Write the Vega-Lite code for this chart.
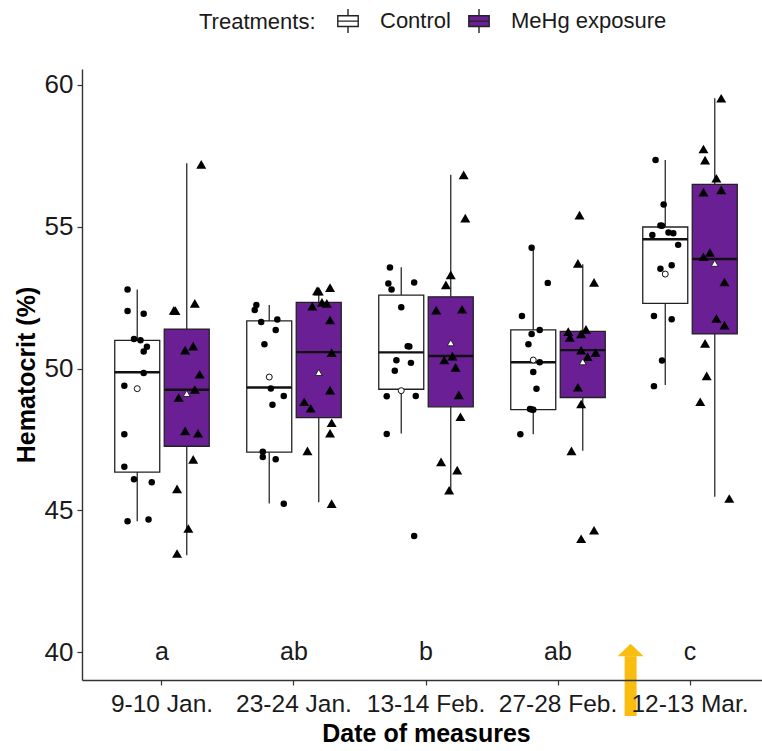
{
  "$schema": "https://vega.github.io/schema/vega-lite/v6.json",
  "autosize": {"type": "none"},
  "padding": {"left": 82, "top": 69, "right": 0, "bottom": 71},
  "width": 680,
  "height": 611,
  "background": "white",
  "datasets": {
    "summary": [
      {"date": "9-10 Jan.", "treatment": "Control", "lower": 44.62, "q1": 46.35, "median": 49.87, "q3": 50.99, "upper": 52.79, "mean": 49.29},
      {"date": "9-10 Jan.", "treatment": "MeHg exposure", "lower": 43.42, "q1": 47.26, "median": 49.25, "q3": 51.39, "upper": 57.24, "mean": 49.12},
      {"date": "23-24 Jan.", "treatment": "Control", "lower": 45.24, "q1": 47.05, "median": 49.33, "q3": 51.68, "upper": 52.24, "mean": 49.7},
      {"date": "23-24 Jan.", "treatment": "MeHg exposure", "lower": 45.29, "q1": 48.27, "median": 50.58, "q3": 52.33, "upper": 52.8, "mean": 49.86},
      {"date": "13-14 Feb.", "treatment": "Control", "lower": 47.71, "q1": 49.27, "median": 50.57, "q3": 52.59, "upper": 53.57, "mean": 49.22},
      {"date": "13-14 Feb.", "treatment": "MeHg exposure", "lower": 45.71, "q1": 48.65, "median": 50.44, "q3": 52.53, "upper": 56.83, "mean": 50.91},
      {"date": "27-28 Feb.", "treatment": "Control", "lower": 47.68, "q1": 48.55, "median": 50.22, "q3": 51.36, "upper": 54.26, "mean": 50.3},
      {"date": "27-28 Feb.", "treatment": "MeHg exposure", "lower": 47.1, "q1": 48.98, "median": 50.65, "q3": 51.31, "upper": 53.68, "mean": 50.24},
      {"date": "12-13 Mar.", "treatment": "Control", "lower": 49.42, "q1": 52.3, "median": 54.56, "q3": 54.99, "upper": 57.35, "mean": 53.33},
      {"date": "12-13 Mar.", "treatment": "MeHg exposure", "lower": 45.48, "q1": 51.22, "median": 53.86, "q3": 56.49, "upper": 59.53, "mean": 53.71}
    ],
    "obs": [
      {"date": "9-10 Jan.", "treatment": "Control", "hct": 52.79},
      {"date": "9-10 Jan.", "treatment": "Control", "hct": 52.03},
      {"date": "9-10 Jan.", "treatment": "Control", "hct": 51.93},
      {"date": "9-10 Jan.", "treatment": "Control", "hct": 51.04},
      {"date": "9-10 Jan.", "treatment": "Control", "hct": 51.0},
      {"date": "9-10 Jan.", "treatment": "Control", "hct": 50.77},
      {"date": "9-10 Jan.", "treatment": "Control", "hct": 50.6},
      {"date": "9-10 Jan.", "treatment": "Control", "hct": 49.84},
      {"date": "9-10 Jan.", "treatment": "Control", "hct": 49.39},
      {"date": "9-10 Jan.", "treatment": "Control", "hct": 47.68},
      {"date": "9-10 Jan.", "treatment": "Control", "hct": 46.54},
      {"date": "9-10 Jan.", "treatment": "Control", "hct": 46.1},
      {"date": "9-10 Jan.", "treatment": "Control", "hct": 45.99},
      {"date": "9-10 Jan.", "treatment": "Control", "hct": 44.68},
      {"date": "9-10 Jan.", "treatment": "Control", "hct": 44.62},
      {"date": "9-10 Jan.", "treatment": "MeHg exposure", "hct": 57.2},
      {"date": "9-10 Jan.", "treatment": "MeHg exposure", "hct": 52.3},
      {"date": "9-10 Jan.", "treatment": "MeHg exposure", "hct": 52.05},
      {"date": "9-10 Jan.", "treatment": "MeHg exposure", "hct": 52.04},
      {"date": "9-10 Jan.", "treatment": "MeHg exposure", "hct": 50.79},
      {"date": "9-10 Jan.", "treatment": "MeHg exposure", "hct": 50.65},
      {"date": "9-10 Jan.", "treatment": "MeHg exposure", "hct": 49.8},
      {"date": "9-10 Jan.", "treatment": "MeHg exposure", "hct": 49.26},
      {"date": "9-10 Jan.", "treatment": "MeHg exposure", "hct": 48.98},
      {"date": "9-10 Jan.", "treatment": "MeHg exposure", "hct": 47.8},
      {"date": "9-10 Jan.", "treatment": "MeHg exposure", "hct": 47.72},
      {"date": "9-10 Jan.", "treatment": "MeHg exposure", "hct": 46.8},
      {"date": "9-10 Jan.", "treatment": "MeHg exposure", "hct": 45.76},
      {"date": "9-10 Jan.", "treatment": "MeHg exposure", "hct": 44.36},
      {"date": "9-10 Jan.", "treatment": "MeHg exposure", "hct": 43.48},
      {"date": "23-24 Jan.", "treatment": "Control", "hct": 52.24},
      {"date": "23-24 Jan.", "treatment": "Control", "hct": 52.06},
      {"date": "23-24 Jan.", "treatment": "Control", "hct": 51.73},
      {"date": "23-24 Jan.", "treatment": "Control", "hct": 51.64},
      {"date": "23-24 Jan.", "treatment": "Control", "hct": 51.36},
      {"date": "23-24 Jan.", "treatment": "Control", "hct": 50.86},
      {"date": "23-24 Jan.", "treatment": "Control", "hct": 49.3},
      {"date": "23-24 Jan.", "treatment": "Control", "hct": 49.03},
      {"date": "23-24 Jan.", "treatment": "Control", "hct": 48.72},
      {"date": "23-24 Jan.", "treatment": "Control", "hct": 47.07},
      {"date": "23-24 Jan.", "treatment": "Control", "hct": 46.88},
      {"date": "23-24 Jan.", "treatment": "Control", "hct": 46.8},
      {"date": "23-24 Jan.", "treatment": "Control", "hct": 45.23},
      {"date": "23-24 Jan.", "treatment": "MeHg exposure", "hct": 52.85},
      {"date": "23-24 Jan.", "treatment": "MeHg exposure", "hct": 52.74},
      {"date": "23-24 Jan.", "treatment": "MeHg exposure", "hct": 52.73},
      {"date": "23-24 Jan.", "treatment": "MeHg exposure", "hct": 52.33},
      {"date": "23-24 Jan.", "treatment": "MeHg exposure", "hct": 52.3},
      {"date": "23-24 Jan.", "treatment": "MeHg exposure", "hct": 52.2},
      {"date": "23-24 Jan.", "treatment": "MeHg exposure", "hct": 51.71},
      {"date": "23-24 Jan.", "treatment": "MeHg exposure", "hct": 50.56},
      {"date": "23-24 Jan.", "treatment": "MeHg exposure", "hct": 49.24},
      {"date": "23-24 Jan.", "treatment": "MeHg exposure", "hct": 48.83},
      {"date": "23-24 Jan.", "treatment": "MeHg exposure", "hct": 48.6},
      {"date": "23-24 Jan.", "treatment": "MeHg exposure", "hct": 48.09},
      {"date": "23-24 Jan.", "treatment": "MeHg exposure", "hct": 47.72},
      {"date": "23-24 Jan.", "treatment": "MeHg exposure", "hct": 47.1},
      {"date": "23-24 Jan.", "treatment": "MeHg exposure", "hct": 45.24},
      {"date": "13-14 Feb.", "treatment": "Control", "hct": 53.56},
      {"date": "13-14 Feb.", "treatment": "Control", "hct": 53.03},
      {"date": "13-14 Feb.", "treatment": "Control", "hct": 53.0},
      {"date": "13-14 Feb.", "treatment": "Control", "hct": 52.79},
      {"date": "13-14 Feb.", "treatment": "Control", "hct": 52.16},
      {"date": "13-14 Feb.", "treatment": "Control", "hct": 50.79},
      {"date": "13-14 Feb.", "treatment": "Control", "hct": 50.78},
      {"date": "13-14 Feb.", "treatment": "Control", "hct": 50.29},
      {"date": "13-14 Feb.", "treatment": "Control", "hct": 50.2},
      {"date": "13-14 Feb.", "treatment": "Control", "hct": 49.92},
      {"date": "13-14 Feb.", "treatment": "Control", "hct": 49.03},
      {"date": "13-14 Feb.", "treatment": "Control", "hct": 49.02},
      {"date": "13-14 Feb.", "treatment": "Control", "hct": 47.69},
      {"date": "13-14 Feb.", "treatment": "Control", "hct": 44.1},
      {"date": "13-14 Feb.", "treatment": "MeHg exposure", "hct": 56.83},
      {"date": "13-14 Feb.", "treatment": "MeHg exposure", "hct": 55.3},
      {"date": "13-14 Feb.", "treatment": "MeHg exposure", "hct": 53.3},
      {"date": "13-14 Feb.", "treatment": "MeHg exposure", "hct": 52.95},
      {"date": "13-14 Feb.", "treatment": "MeHg exposure", "hct": 52.09},
      {"date": "13-14 Feb.", "treatment": "MeHg exposure", "hct": 52.06},
      {"date": "13-14 Feb.", "treatment": "MeHg exposure", "hct": 50.44},
      {"date": "13-14 Feb.", "treatment": "MeHg exposure", "hct": 50.3},
      {"date": "13-14 Feb.", "treatment": "MeHg exposure", "hct": 50.04},
      {"date": "13-14 Feb.", "treatment": "MeHg exposure", "hct": 49.07},
      {"date": "13-14 Feb.", "treatment": "MeHg exposure", "hct": 48.3},
      {"date": "13-14 Feb.", "treatment": "MeHg exposure", "hct": 46.71},
      {"date": "13-14 Feb.", "treatment": "MeHg exposure", "hct": 46.42},
      {"date": "13-14 Feb.", "treatment": "MeHg exposure", "hct": 45.71},
      {"date": "27-28 Feb.", "treatment": "Control", "hct": 54.26},
      {"date": "27-28 Feb.", "treatment": "Control", "hct": 53.02},
      {"date": "27-28 Feb.", "treatment": "Control", "hct": 51.85},
      {"date": "27-28 Feb.", "treatment": "Control", "hct": 51.36},
      {"date": "27-28 Feb.", "treatment": "Control", "hct": 51.22},
      {"date": "27-28 Feb.", "treatment": "Control", "hct": 50.86},
      {"date": "27-28 Feb.", "treatment": "Control", "hct": 50.22},
      {"date": "27-28 Feb.", "treatment": "Control", "hct": 49.88},
      {"date": "27-28 Feb.", "treatment": "Control", "hct": 49.29},
      {"date": "27-28 Feb.", "treatment": "Control", "hct": 48.56},
      {"date": "27-28 Feb.", "treatment": "Control", "hct": 48.57},
      {"date": "27-28 Feb.", "treatment": "Control", "hct": 48.55},
      {"date": "27-28 Feb.", "treatment": "Control", "hct": 47.68},
      {"date": "27-28 Feb.", "treatment": "MeHg exposure", "hct": 55.41},
      {"date": "27-28 Feb.", "treatment": "MeHg exposure", "hct": 53.71},
      {"date": "27-28 Feb.", "treatment": "MeHg exposure", "hct": 53.04},
      {"date": "27-28 Feb.", "treatment": "MeHg exposure", "hct": 51.38},
      {"date": "27-28 Feb.", "treatment": "MeHg exposure", "hct": 51.3},
      {"date": "27-28 Feb.", "treatment": "MeHg exposure", "hct": 51.22},
      {"date": "27-28 Feb.", "treatment": "MeHg exposure", "hct": 51.1},
      {"date": "27-28 Feb.", "treatment": "MeHg exposure", "hct": 50.65},
      {"date": "27-28 Feb.", "treatment": "MeHg exposure", "hct": 50.56},
      {"date": "27-28 Feb.", "treatment": "MeHg exposure", "hct": 50.42},
      {"date": "27-28 Feb.", "treatment": "MeHg exposure", "hct": 49.34},
      {"date": "27-28 Feb.", "treatment": "MeHg exposure", "hct": 48.75},
      {"date": "27-28 Feb.", "treatment": "MeHg exposure", "hct": 47.1},
      {"date": "27-28 Feb.", "treatment": "MeHg exposure", "hct": 44.3},
      {"date": "27-28 Feb.", "treatment": "MeHg exposure", "hct": 44.0},
      {"date": "12-13 Mar.", "treatment": "Control", "hct": 57.35},
      {"date": "12-13 Mar.", "treatment": "Control", "hct": 55.78},
      {"date": "12-13 Mar.", "treatment": "Control", "hct": 55.04},
      {"date": "12-13 Mar.", "treatment": "Control", "hct": 55.03},
      {"date": "12-13 Mar.", "treatment": "Control", "hct": 54.8},
      {"date": "12-13 Mar.", "treatment": "Control", "hct": 54.77},
      {"date": "12-13 Mar.", "treatment": "Control", "hct": 54.71},
      {"date": "12-13 Mar.", "treatment": "Control", "hct": 54.36},
      {"date": "12-13 Mar.", "treatment": "Control", "hct": 53.64},
      {"date": "12-13 Mar.", "treatment": "Control", "hct": 53.52},
      {"date": "12-13 Mar.", "treatment": "Control", "hct": 51.85},
      {"date": "12-13 Mar.", "treatment": "Control", "hct": 51.74},
      {"date": "12-13 Mar.", "treatment": "Control", "hct": 50.28},
      {"date": "12-13 Mar.", "treatment": "Control", "hct": 49.38},
      {"date": "12-13 Mar.", "treatment": "MeHg exposure", "hct": 59.53},
      {"date": "12-13 Mar.", "treatment": "MeHg exposure", "hct": 57.74},
      {"date": "12-13 Mar.", "treatment": "MeHg exposure", "hct": 57.35},
      {"date": "12-13 Mar.", "treatment": "MeHg exposure", "hct": 56.71},
      {"date": "12-13 Mar.", "treatment": "MeHg exposure", "hct": 56.3},
      {"date": "12-13 Mar.", "treatment": "MeHg exposure", "hct": 56.22},
      {"date": "12-13 Mar.", "treatment": "MeHg exposure", "hct": 54.09},
      {"date": "12-13 Mar.", "treatment": "MeHg exposure", "hct": 53.94},
      {"date": "12-13 Mar.", "treatment": "MeHg exposure", "hct": 53.05},
      {"date": "12-13 Mar.", "treatment": "MeHg exposure", "hct": 51.77},
      {"date": "12-13 Mar.", "treatment": "MeHg exposure", "hct": 51.53},
      {"date": "12-13 Mar.", "treatment": "MeHg exposure", "hct": 50.89},
      {"date": "12-13 Mar.", "treatment": "MeHg exposure", "hct": 49.74},
      {"date": "12-13 Mar.", "treatment": "MeHg exposure", "hct": 48.83},
      {"date": "12-13 Mar.", "treatment": "MeHg exposure", "hct": 45.42}
    ],
    "letters": [
      {"date": "9-10 Jan.", "group": "a"},
      {"date": "23-24 Jan.", "group": "ab"},
      {"date": "13-14 Feb.", "group": "b"},
      {"date": "27-28 Feb.", "group": "ab"},
      {"date": "12-13 Mar.", "group": "c"}
    ],
    "event": [
      {"date": "12-13 Mar.", "label": "exposure start"}
    ]
  },
  "encoding": {
    "x": {
      "field": "date",
      "type": "nominal",
      "sort": ["9-10 Jan.", "23-24 Jan.", "13-14 Feb.", "27-28 Feb.", "12-13 Mar."],
      "scale": {"range": [0, 688], "paddingInner": 0, "paddingOuter": 0.106},
      "axis": {"title": "Date of measures", "labelAngle": 0, "labelPadding": 7, "titlePadding": 6, "zindex": 1, "labelFontSize": 24.5}
    }
  },
  "layer": [
    {
      "data": {"name": "summary"},
      "mark": {"type": "rule", "color": "#2b2b2b", "strokeWidth": 1.3},
      "encoding": {
        "xOffset": {"field": "treatment", "type": "nominal", "scale": {"paddingInner": 0.0909, "paddingOuter": 0.3788}},
        "y": {
          "field": "lower",
          "type": "quantitative",
          "scale": {"domain": [39.02, 60.56], "nice": false, "zero": false},
          "axis": {"title": "Hematocrit (%)", "values": [40, 45, 50, 55, 60], "labelPadding": 4, "titlePadding": 5, "labelFontSize": 26}
        },
        "y2": {"field": "upper"}
      }
    },
    {
      "data": {"name": "summary"},
      "mark": {"type": "bar", "stroke": "#222222", "strokeWidth": 1.3},
      "encoding": {
        "xOffset": {"field": "treatment", "type": "nominal", "scale": {"paddingInner": 0.0909, "paddingOuter": 0.3788}},
        "y": {"field": "q1", "type": "quantitative"},
        "y2": {"field": "q3"},
        "fill": {
          "field": "treatment",
          "type": "nominal",
          "scale": {"domain": ["Control", "MeHg exposure"], "range": ["#ffffff", "#6a1f94"]},
          "legend": {
            "title": "Treatments:",
            "orient": "none",
            "legendX": 117,
            "legendY": -61,
            "direction": "horizontal",
            "titleOrient": "left",
            "titleFontWeight": "normal",
            "titleFontSize": 22,
            "titleColor": "#1a1a1a",
            "titlePadding": 19,
            "labelFontSize": 22,
            "labelColor": "#1a1a1a",
            "labelLimit": 400,
            "labelOffset": 19,
            "columnPadding": 15,
            "symbolType": "M0,-1L0,-0.45M0,0.45L0,1M-0.85,-0.45L0.85,-0.45L0.85,0.45L-0.85,0.45ZM-0.85,0L0.85,0",
            "symbolSize": 576,
            "symbolStrokeColor": "#222222",
            "symbolStrokeWidth": 1.4
          }
        }
      }
    },
    {
      "data": {"name": "summary"},
      "mark": {"type": "bar", "fill": null, "fillOpacity": 0, "stroke": "#111111", "strokeWidth": 2.4},
      "encoding": {
        "xOffset": {"field": "treatment", "type": "nominal", "scale": {"paddingInner": 0.0909, "paddingOuter": 0.3788}},
        "y": {"field": "median", "type": "quantitative"},
        "y2": {"field": "median"}
      }
    },
    {
      "data": {"name": "obs"},
      "transform": [
        {"filter": "datum.treatment == 'Control'"},
        {"calculate": "((round(datum.hct * 100) * 37) % 19) / 18 - 0.5", "as": "jit"},
        {"calculate": "-0.375 + 0.44 * datum.jit", "as": "jx"}
      ],
      "mark": {"type": "point", "shape": "circle", "filled": true, "color": "#000000", "opacity": 1, "size": 42},
      "encoding": {
        "xOffset": {"field": "jx", "type": "quantitative", "scale": {"domain": [-1, 1], "range": [0, 132]}},
        "y": {"field": "hct", "type": "quantitative"}
      }
    },
    {
      "data": {"name": "obs"},
      "transform": [
        {"filter": "datum.treatment == 'MeHg exposure'"},
        {"calculate": "((round(datum.hct * 100) * 37) % 19) / 18 - 0.5", "as": "jit"},
        {"calculate": "0.375 + 0.44 * datum.jit", "as": "jx"}
      ],
      "mark": {"type": "point", "shape": "triangle-up", "filled": true, "color": "#000000", "opacity": 1, "size": 100},
      "encoding": {
        "xOffset": {"field": "jx", "type": "quantitative", "scale": {"domain": [-1, 1], "range": [0, 132]}},
        "y": {"field": "hct", "type": "quantitative"}
      }
    },
    {
      "data": {"name": "summary"},
      "transform": [{"filter": "datum.treatment == 'Control'"}],
      "mark": {"type": "point", "shape": "circle", "filled": true, "fill": "#ffffff", "stroke": "#111111", "strokeWidth": 1, "opacity": 1, "size": 36},
      "encoding": {
        "xOffset": {"datum": -0.375, "type": "quantitative", "scale": {"domain": [-1, 1], "range": [0, 132]}},
        "y": {"field": "mean", "type": "quantitative"}
      }
    },
    {
      "data": {"name": "summary"},
      "transform": [{"filter": "datum.treatment == 'MeHg exposure'"}],
      "mark": {"type": "point", "shape": "triangle-up", "filled": true, "fill": "#ffffff", "stroke": "#111111", "strokeWidth": 0.8, "opacity": 1, "size": 48},
      "encoding": {
        "xOffset": {"datum": 0.375, "type": "quantitative", "scale": {"domain": [-1, 1], "range": [0, 132]}},
        "y": {"field": "mean", "type": "quantitative"}
      }
    },
    {
      "data": {"name": "letters"},
      "mark": {"type": "text", "fontSize": 25, "color": "#1a1a1a", "baseline": "middle", "align": "center"},
      "encoding": {
        "y": {"datum": 40},
        "text": {"field": "group"}
      }
    },
    {
      "data": {"name": "event"},
      "mark": {"type": "rule", "color": "#f9bd0f", "strokeWidth": 12, "strokeCap": "butt"},
      "encoding": {
        "x": {"field": "date", "type": "nominal", "bandPosition": 0.05},
        "y": {"datum": 37.75},
        "y2": {"datum": 39.86}
      }
    },
    {
      "data": {"name": "event"},
      "mark": {"type": "point", "filled": true, "color": "#f9bd0f", "opacity": 1, "shape": "M-1,0L0,-0.95L1,0Z", "size": 676},
      "encoding": {
        "x": {"field": "date", "type": "nominal", "bandPosition": 0.05},
        "y": {"datum": 39.86}
      }
    }
  ],
  "resolve": {"scale": {"xOffset": "independent"}},
  "config": {
    "font": "Liberation Sans",
    "view": {"stroke": null},
    "axis": {
      "grid": false,
      "domainColor": "#333333",
      "domainWidth": 1.4,
      "tickColor": "#333333",
      "tickWidth": 1.2,
      "tickSize": 5,
      "labelFont": "Liberation Sans",
      "labelFontSize": 25,
      "labelColor": "#1a1a1a",
      "titleFont": "Liberation Sans",
      "titleFontSize": 25,
      "titleFontWeight": "bold",
      "titleColor": "#000000"
    },
    "legend": {
      "labelFont": "Liberation Sans",
      "titleFont": "Liberation Sans"
    }
  }
}
